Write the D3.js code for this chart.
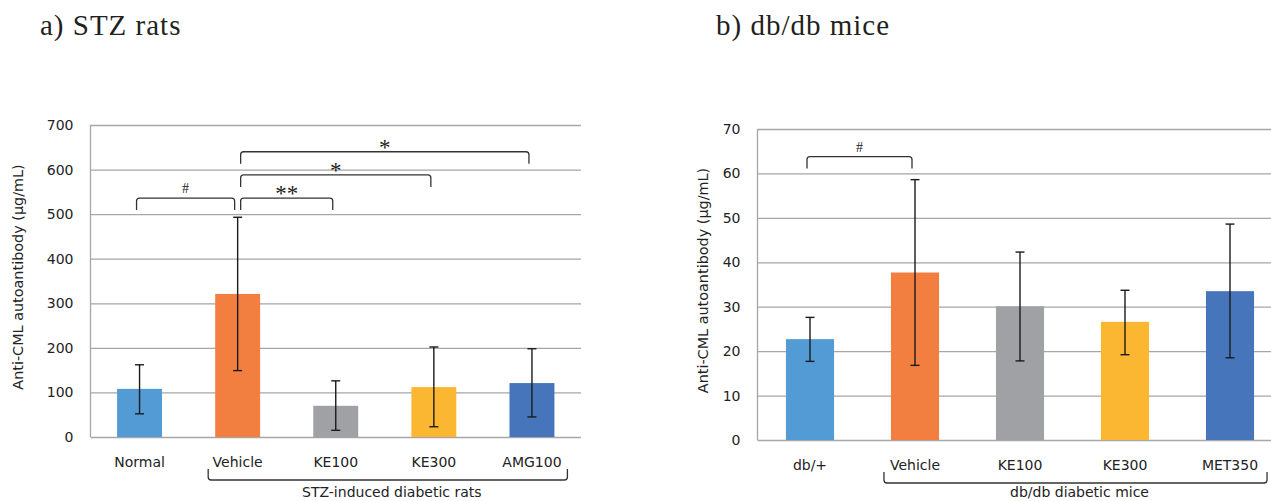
<!DOCTYPE html>
<html>
<head>
<meta charset="utf-8">
<script src="https://cdn.jsdelivr.net/npm/d3@7"></script>
<style>
  body { margin: 0; background: #fff; }
  svg { display: block; }
  .tick text { font-family: "DejaVu Sans", Verdana, sans-serif; font-size: 14px; fill: #222; }
</style>
</head>
<body>
<svg id="chart"></svg>
<script>
// ---- data ----
const ratGroups = ["Normal", "Vehicle", "KE100", "KE300", "AMG100"];
const ratMeans = [108, 321, 70, 112, 121];
const ratLow = [52, 149, 15, 23, 45];
const ratHigh = [162, 493, 126, 202, 198];
const ratTicks = [0, 100, 200, 300, 400, 500, 600, 700];
const ratBrackets = [
  {from: "Normal", to: "Vehicle", level: 536, label: "#"},
  {from: "Vehicle", to: "KE100", level: 536, label: "**"},
  {from: "Vehicle", to: "KE300", level: 588, label: "*"},
  {from: "Vehicle", to: "AMG100", level: 640, label: "*"}
];

const miceGroups = ["db/+", "Vehicle", "KE100", "KE300", "MET350"];
const miceMeans = [22.7, 37.7, 30.1, 26.6, 33.5];
const miceLow = [17.7, 16.8, 17.8, 19.2, 18.5];
const miceHigh = [27.6, 58.6, 42.3, 33.7, 48.6];
const miceTicks = [0, 10, 20, 30, 40, 50, 60, 70];
const miceBrackets = [
  {from: "db/+", to: "Vehicle", level: 63.8, label: "#"}
];

const barColors = ["#529bd5", "#f27f40", "#a0a1a5", "#fcb732", "#4775bb"];
const yTitle = "Anti-CML autoantibody (\u00b5g/mL)";

const W = 1271, H = 501;
const sans = '"DejaVu Sans", Verdana, sans-serif';
const serif = '"Liberation Serif", "Times New Roman", serif';

const svg = d3.select("#chart").attr("width", W).attr("height", H);

const panels = [
  {title: "a) STZ rats", titleX: 40, groups: ratGroups, means: ratMeans, low: ratLow, high: ratHigh,
   ticks: ratTicks, brackets: ratBrackets, groupLabel: "STZ-induced diabetic rats",
   x0: 90.5, x1: 581, y0: 437, y1: 125, titleAxisX: 23},
  {title: "b) db/db mice", titleX: 716, groups: miceGroups, means: miceMeans, low: miceLow, high: miceHigh,
   ticks: miceTicks, brackets: miceBrackets, groupLabel: "db/db diabetic mice",
   x0: 757.5, x1: 1282.5, y0: 440, y1: 129, titleAxisX: 708}
];

panels.forEach(p => drawPanel(p));

function drawPanel(p) {
  const g = svg.append("g");

  const x = d3.scaleBand().domain(p.groups).range([p.x0, p.x1])
    .paddingInner(0.542).paddingOuter(0.271);
  const y = d3.scaleLinear().domain([0, d3.max(p.ticks)]).range([p.y0, p.y1]);
  const cx = d => x(d) + x.bandwidth() / 2;

  // panel title
  g.append("text")
    .attr("x", p.titleX).attr("y", 35)
    .attr("font-family", serif).attr("font-size", 29)
    .attr("letter-spacing", 1).attr("fill", "#231f20")
    .text(p.title);

  // gridlines + tick labels
  const grid = g.append("g")
    .attr("transform", `translate(${p.x0},0)`)
    .call(d3.axisLeft(y).tickValues(p.ticks).tickSize(-(p.x1 - p.x0)).tickPadding(17));
  grid.select(".domain").remove();
  grid.selectAll(".tick line").attr("stroke", "#a6a6a6").attr("stroke-width", 1.3);

  // y axis line
  g.append("line")
    .attr("x1", p.x0).attr("x2", p.x0).attr("y1", p.y1).attr("y2", p.y0)
    .attr("stroke", "#a6a6a6").attr("stroke-width", 1.3);

  // bars
  g.selectAll(".bar").data(p.groups).join("rect")
    .attr("class", "bar")
    .attr("x", d => x(d))
    .attr("y", (d, i) => y(p.means[i]))
    .attr("width", x.bandwidth())
    .attr("height", (d, i) => y(0) - y(p.means[i]))
    .attr("fill", (d, i) => barColors[i]);

  // error bars
  const err = g.selectAll(".err").data(p.groups).join("g").attr("class", "err")
    .attr("stroke", "#1b1b1b").attr("stroke-width", 1.4);
  err.append("line")
    .attr("x1", d => cx(d)).attr("x2", d => cx(d))
    .attr("y1", (d, i) => y(p.high[i])).attr("y2", (d, i) => y(p.low[i]));
  err.append("line")
    .attr("x1", d => cx(d) - 4.5).attr("x2", d => cx(d) + 4.5)
    .attr("y1", (d, i) => y(p.high[i])).attr("y2", (d, i) => y(p.high[i]));
  err.append("line")
    .attr("x1", d => cx(d) - 4.5).attr("x2", d => cx(d) + 4.5)
    .attr("y1", (d, i) => y(p.low[i])).attr("y2", (d, i) => y(p.low[i]));

  // x labels
  g.selectAll(".xlab").data(p.groups).join("text")
    .attr("class", "xlab")
    .attr("x", d => cx(d)).attr("y", p.y0 + 25.5)
    .attr("dy", "0.35em")
    .attr("text-anchor", "middle")
    .attr("font-family", sans).attr("font-size", 14).attr("fill", "#222")
    .text(d => d);

  // y title
  g.append("text")
    .attr("transform", `translate(${p.titleAxisX},${(p.y0 + p.y1) / 2 - 4}) rotate(-90)`)
    .attr("text-anchor", "middle")
    .attr("font-family", sans).attr("font-size", 14.4).attr("fill", "#222")
    .text(yTitle);

  // significance brackets
  const r = 3;
  p.brackets.forEach(b => {
    const xa = cx(b.from) + (b.from === "Vehicle" ? 3 : -3);
    const xb = cx(b.to) - 3;
    const yt = y(b.level), yb = yt + 12;
    const path = d3.path();
    path.moveTo(xa, yb);
    path.lineTo(xa, yt + r);
    path.quadraticCurveTo(xa, yt, xa + r, yt);
    path.lineTo(xb - r, yt);
    path.quadraticCurveTo(xb, yt, xb, yt + r);
    path.lineTo(xb, yb);
    g.append("path").attr("d", path.toString())
      .attr("fill", "none").attr("stroke", "#333").attr("stroke-width", 1.3);
    const isHash = b.label === "#";
    g.append("text")
      .attr("x", (xa + xb) / 2)
      .attr("y", isHash ? yt - 5 : yt + 3)
      .attr("text-anchor", "middle")
      .attr("font-family", serif)
      .attr("font-size", isHash ? 14 : 23)
      .attr("fill", "#222")
      .text(b.label);
  });

  // group bracket below the treated groups
  const treated = p.groups.slice(1);
  const ga = x(treated[0]) - 7;
  const gb = x(treated[treated.length - 1]) + x.bandwidth() + 13;
  const gt = p.y0 + 32, gbm = p.y0 + 43;
  const gp = d3.path();
  gp.moveTo(ga, gt);
  gp.lineTo(ga, gbm - r);
  gp.quadraticCurveTo(ga, gbm, ga + r, gbm);
  gp.lineTo(gb - r, gbm);
  gp.quadraticCurveTo(gb, gbm, gb, gbm - r);
  gp.lineTo(gb, gt);
  g.append("path").attr("d", gp.toString())
    .attr("fill", "none").attr("stroke", "#333").attr("stroke-width", 1.3);
  g.append("text")
    .attr("x", (ga + gb) / 2 + 4).attr("y", Math.min(p.y0 + 60, H - 4))
    .attr("text-anchor", "middle")
    .attr("font-family", sans).attr("font-size", 14).attr("fill", "#222")
    .text(p.groupLabel);
}
</script>
</body>
</html>
